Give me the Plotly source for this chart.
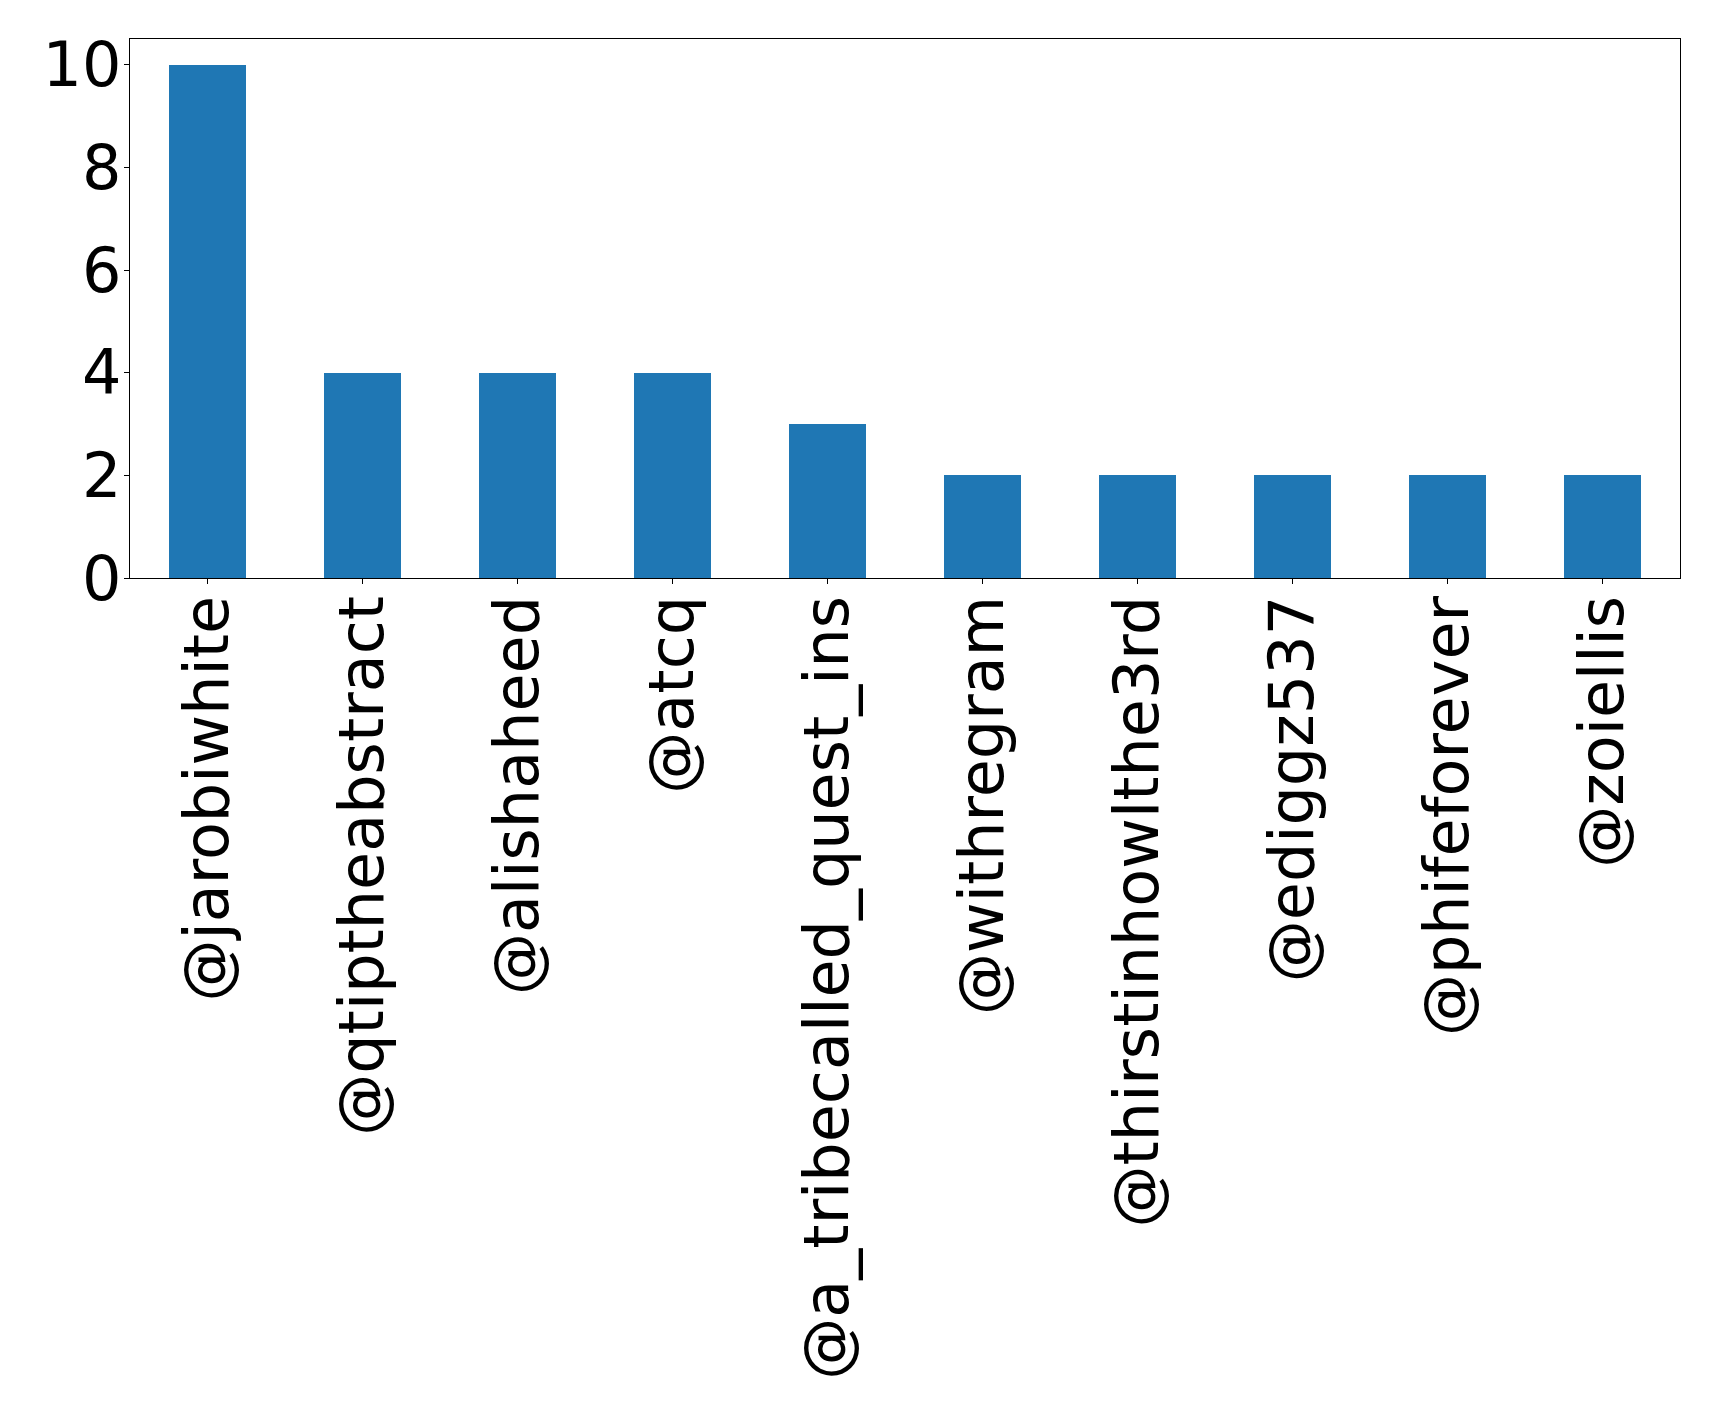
import plotly.graph_objects as go

categories = ["@jarobiwhite", "@qtiptheabstract", "@alishaheed", "@atcq",
              "@a_tribecalled_quest_ins", "@withregram", "@thirstinhowlthe3rd",
              "@ediggz537", "@phifeforever", "@zoiellis"]
values = [10, 4, 4, 4, 3, 2, 2, 2, 2, 2]
y_ticks = [0, 2, 4, 6, 8, 10]

fig = go.Figure(go.Bar(x=list(range(len(categories))), y=values, width=0.5,
                       marker=dict(color="#1f77b4", line=dict(width=0))))

# page body has an 8px margin, so the figure is offset by (8, 8)
W, H = 1711, 1410
FS = 62
fig.update_layout(
    width=W, height=H,
    margin=dict(l=121.5, r=39.3, t=31.3, b=839.7, autoexpand=False),
    plot_bgcolor="white", paper_bgcolor="white",
    font=dict(family="DejaVu Sans", size=FS, color="black"),
    showlegend=False,
    bargap=0,
)
fig.update_xaxes(
    range=[-0.5, len(categories) - 0.5],
    tickmode="array", tickvals=list(range(len(categories))), ticktext=categories,
    tickangle=-90, ticks="outside", ticklen=5, tickwidth=1.2, tickcolor="black",
    ticklabelstandoff=-13,
    showline=True, linecolor="black", linewidth=1.2, mirror=True,
    showgrid=False, zeroline=False,
    tickfont=dict(family="DejaVu Sans", size=FS, color="black"),
)
fig.update_yaxes(
    range=[0, 10.5],
    tickmode="array", tickvals=y_ticks, ticktext=[str(v) for v in y_ticks],
    ticks="outside", ticklen=5, tickwidth=1.2, tickcolor="black",
    ticklabelstandoff=-10,
    showline=True, linecolor="black", linewidth=1.2, mirror=True,
    showgrid=False, zeroline=False,
    tickfont=dict(family="DejaVu Sans", size=FS, color="black"),
)
fig.write_html("out.html")
